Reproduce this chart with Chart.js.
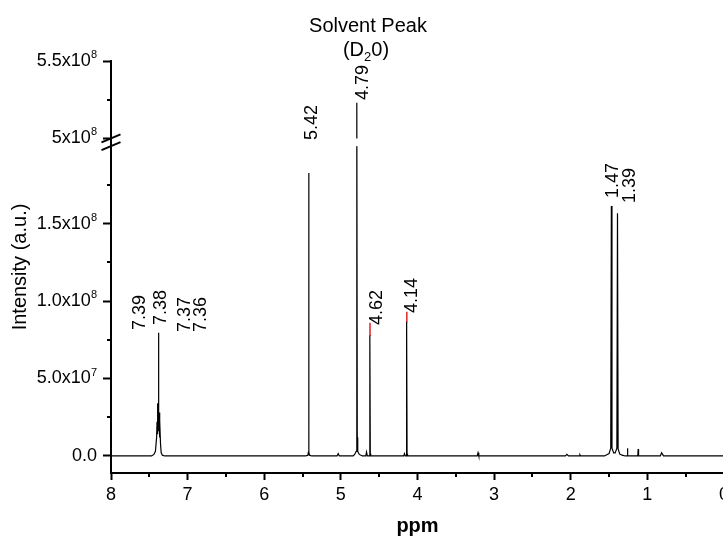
<!DOCTYPE html>
<html>
<head>
<meta charset="utf-8">
<title>1H NMR spectrum</title>
<script src="https://cdn.jsdelivr.net/npm/chart.js@4.4.1/dist/chart.umd.min.js"></script>
<style>
  html, body { margin: 0; padding: 0; background: #fff; overflow: hidden; }
  #wrap { width: 734px; height: 536px; }
</style>
</head>
<body>
<div id="wrap"><canvas id="nmr" width="734" height="536"></canvas></div>
<script>
// chemical shift (ppm) and intensity of the spectrum, high to low ppm
const ppm = [
  8.00, 7.47, 7.44, 7.42, 7.405, 7.399, 7.395, 7.391, 7.388, 7.385, 7.381, 7.378, 7.375, 7.371, 7.368, 7.365, 7.361, 7.354, 7.345, 7.33, 7.30,
  5.46, 5.43, 5.424, 5.42, 5.416, 5.41, 5.38,
  5.05, 5.035, 5.02,
  4.84, 4.82, 4.80, 4.794, 4.79, 4.786, 4.78, 4.76, 4.72,
  4.675, 4.665, 4.655,
  4.63, 4.624, 4.62, 4.616, 4.61,
  4.18, 4.17, 4.16,
  4.145, 4.144, 4.14, 4.136, 4.13,
  3.22, 3.21, 3.20,
  2.07, 2.05, 2.03,
  1.89, 1.88, 1.87,
  1.56, 1.53, 1.50, 1.478, 1.47, 1.462, 1.44, 1.42, 1.398, 1.39, 1.382, 1.36, 1.33, 1.29,
  1.265, 1.26, 1.255,
  1.125, 1.12, 1.115,
  0.83, 0.815, 0.80, 0.79,
  0.00
];
const intensity = [
  0, 0, 1e6, 3e6, 1.2e7, 2.2e7, 3.4e7, 1.4e7, 2.6e7, 1.8e7, 7.95e7, 1.6e7, 2.6e7, 2.8e7, 1.2e7, 2.0e7, 2.3e7, 8e6, 2e6, 5e5, 0,
  0, 5e5, 2.5e6, 1.827e8, 2.5e6, 5e5, 0,
  0, 1.5e6, 0,
  0, 1e6, 3e6, 1.2e7, 5.23e8, 1.2e7, 3e6, 1e6, 0,
  0, 2.5e6, 0,
  0, 1.5e6, 7.8e7, 1.5e6, 0,
  0, 1.5e6, 0,
  0, 1.5e6, 8.67e7, 1.5e6, 0,
  0, 2e6, 0,
  0, 1e6, 0,
  0, 8e5, 0,
  0, 8e5, 1.5e6, 5e6, 1.614e8, 5e6, 2e6, 2e6, 5e6, 1.567e8, 4.5e6, 1.2e6, 5e5, 0,
  0, 5e6, 0,
  0, 4.5e6, 0,
  0, 2e6, 1e6, 0,
  0
];

// second trace, rising just above the first at 4.62 and 4.14
const ppmOverlay = [4.621, 4.62, 4.619, 4.40, 4.141, 4.14, 4.139];
const intensityOverlay = [7.8e7, 8.6e7, 7.8e7, null, 8.67e7, 9.31e7, 8.67e7];

// broken y axis: the range between BREAK_LOW and BREAK_HIGH is left out
const BREAK_LOW = 2.0e8;
const BREAK_HIGH = 5.0e8;
const BREAK_GAP = 5e6;
const Y_MIN = -1.1e7;
const Y_MAX = 5.5e8;

const yTickValues = [0, 5e7, 1e8, 1.5e8, 5e8, 5.5e8];
const yTickLabels = ['0.0', '5.0x10', '1.0x10', '1.5x10', '5x10', '5.5x10'];
const yTickExponents = ['', '7', '8', '8', '8', '8'];
const yMinorValues = [2.5e7, 7.5e7, 1.25e8, 1.75e8, 5.25e8];
const xMinorValues = [7.5, 6.5, 5.5, 4.5, 3.5, 2.5, 1.5, 0.5];

// peak labels: text, ppm where the label sits, intensity where it starts
const peakLabels = ['7.39', '7.38', '7.37', '7.36', '5.42', '4.79', '4.62', '4.14', '1.47', '1.39'];
const peakLabelPpm = [7.622, 7.347, 7.034, 6.825, 5.377, 4.711, 4.528, 4.072, 1.449, 1.227];
const peakLabelBase = [8.13e7, 8.45e7, 8.0e7, 8.0e7, 2.04e8, 5.248e8, 8.45e7, 9.23e7, 1.665e8, 1.633e8];

const solventPpm = 4.646;

const FONT = '"Liberation Sans", Arial, sans-serif';

function toAxis(v) {
  if (v === null) return null;
  return v >= BREAK_HIGH ? v - (BREAK_HIGH - BREAK_LOW - BREAK_GAP) : v;
}

const annotate = {
  id: 'annotate',
  afterDatasetsDraw(chart) {
    const { ctx, chartArea, scales: { x, y } } = chart;
    const left = chartArea.left;
    ctx.save();

    // cut the spectrum where the axis is broken
    const yHigh = y.getPixelForValue(toAxis(BREAK_HIGH));
    const yLow = y.getPixelForValue(BREAK_LOW);
    ctx.fillStyle = '#fff';
    ctx.fillRect(left + 2, yHigh, chartArea.right - left, yLow - yHigh);

    // break marks across the y axis
    ctx.strokeStyle = '#000';
    ctx.lineWidth = 2;
    [yHigh, yLow].forEach(py => {
      ctx.beginPath();
      ctx.moveTo(left - 9.5, py + 4);
      ctx.lineTo(left + 9.5, py - 4);
      ctx.stroke();
    });

    // minor ticks
    yMinorValues.forEach(v => {
      const py = Math.round(y.getPixelForValue(toAxis(v)));
      ctx.beginPath();
      ctx.moveTo(left - 4, py);
      ctx.lineTo(left, py);
      ctx.stroke();
    });
    xMinorValues.forEach(v => {
      const px = Math.round(x.getPixelForValue(v));
      ctx.beginPath();
      ctx.moveTo(px, chartArea.bottom);
      ctx.lineTo(px, chartArea.bottom + 4);
      ctx.stroke();
    });

    // y tick labels with raised exponents
    ctx.fillStyle = '#000';
    ctx.textBaseline = 'middle';
    ctx.textAlign = 'right';
    const labelRight = left - 8 - 6;
    yTickValues.forEach((v, i) => {
      const py = y.getPixelForValue(toAxis(v));
      let rx = labelRight;
      if (yTickExponents[i]) {
        ctx.font = '11px ' + FONT;
        ctx.fillText(yTickExponents[i], rx, py - 6);
        rx -= ctx.measureText(yTickExponents[i]).width;
      }
      ctx.font = '18px ' + FONT;
      ctx.fillText(yTickLabels[i], rx, py);
    });

    // rotated peak labels
    ctx.font = '18px ' + FONT;
    ctx.textAlign = 'left';
    ctx.textBaseline = 'middle';
    peakLabels.forEach((t, i) => {
      const px = x.getPixelForValue(peakLabelPpm[i]);
      const py = y.getPixelForValue(toAxis(peakLabelBase[i]));
      ctx.save();
      ctx.translate(px, py);
      ctx.rotate(-Math.PI / 2);
      ctx.fillText(t, 0, 0);
      ctx.restore();
    });

    // solvent note above the plot
    const sx = x.getPixelForValue(solventPpm);
    ctx.textBaseline = 'alphabetic';
    ctx.textAlign = 'center';
    ctx.font = '20px ' + FONT;
    ctx.fillText('Solvent Peak', sx, chartArea.top - 29);

    const big = '20px ' + FONT;
    const small = '13px ' + FONT;
    ctx.font = big;
    const wA = ctx.measureText('(D').width;
    const wC = ctx.measureText('0)').width;
    ctx.font = small;
    const wB = ctx.measureText('2').width;
    let cx = sx - 2 - (wA + wB + wC) / 2;
    const base = chartArea.top - 5;
    ctx.textAlign = 'left';
    ctx.font = big;
    ctx.fillText('(D', cx, base);
    cx += wA;
    ctx.font = small;
    ctx.fillText('2', cx, base + 5);
    cx += wB;
    ctx.font = big;
    ctx.fillText('0)', cx, base);

    ctx.restore();
  }
};

new Chart(document.getElementById('nmr'), {
  type: 'line',
  data: {
    datasets: [
      {
        data: ppm.map((p, i) => ({ x: p, y: toAxis(intensity[i]) })),
        borderColor: '#000',
        borderWidth: 1.2,
        pointRadius: 0,
        tension: 0
      },
      {
        data: ppmOverlay.map((p, i) => ({ x: p, y: toAxis(intensityOverlay[i]) })),
        borderColor: 'rgb(226,52,52)',
        borderWidth: 1.6,
        pointRadius: 0,
        tension: 0,
        spanGaps: false
      }
    ]
  },
  options: {
    responsive: false,
    animation: false,
    layout: { padding: { top: 61, right: 10, left: 0, bottom: 0 } },
    plugins: { legend: { display: false }, tooltip: { enabled: false } },
    scales: {
      x: {
        type: 'linear',
        reverse: true,
        min: 0,
        max: 8,
        afterFit: s => { s.height = 63; },
        ticks: {
          stepSize: 1,
          autoSkip: false,
          maxRotation: 0,
          padding: 4,
          color: '#000',
          font: { size: 18, family: FONT },
          callback: v => String(v)
        },
        grid: { drawOnChartArea: false, drawTicks: true, tickLength: 7, tickWidth: 2, tickColor: '#000' },
        border: { display: true, color: '#000', width: 2 },
        title: {
          display: true,
          text: 'ppm',
          color: '#000',
          font: { size: 20, weight: 'bold', family: FONT, lineHeight: 1 },
          padding: { top: 0, bottom: 0 }
        }
      },
      y: {
        type: 'linear',
        min: Y_MIN,
        max: toAxis(Y_MAX),
        afterFit: s => { s.width = 111; },
        afterBuildTicks: s => { s.ticks = yTickValues.map(v => ({ value: toAxis(v) })); },
        ticks: { display: false, autoSkip: false },
        grid: { drawOnChartArea: false, drawTicks: true, tickLength: 8, tickWidth: 2, tickColor: '#000' },
        border: { display: true, color: '#000', width: 2 },
        title: {
          display: true,
          text: 'Intensity (a.u.)',
          color: '#000',
          font: { size: 20, family: FONT, lineHeight: 1 },
          padding: { top: 10, bottom: 0 }
        }
      }
    }
  },
  plugins: [annotate]
});
</script>
</body>
</html>
